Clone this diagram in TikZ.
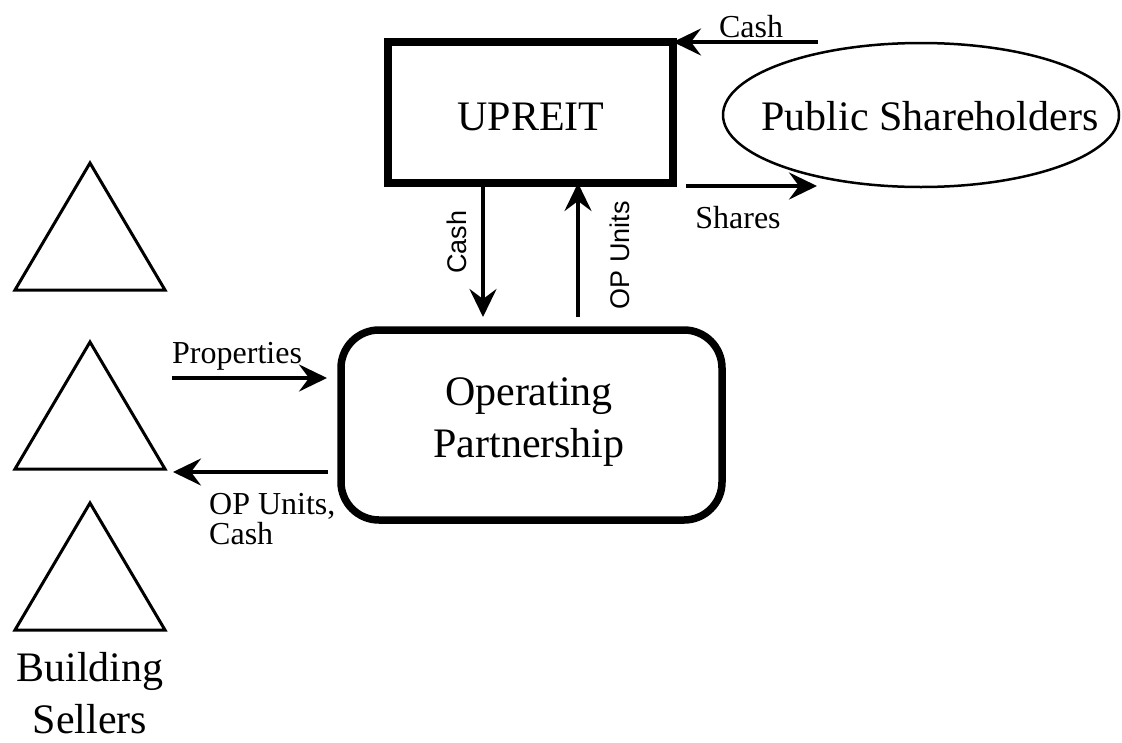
\documentclass[tikz,border=0pt]{standalone}
\usepackage{fontspec}
\setmainfont{Liberation Serif}
\newfontfamily\pixsans{Liberation Sans}
\usetikzlibrary{calc,positioning,arrows.meta,shapes.geometric}

\tikzset{flow/.style={line width=4pt,-{Stealth[length=28pt,width=27pt,inset=10pt]}},
bigtext/.style={font=\fontsize{42}{52}\selectfont,align=center,inner sep=0pt},
smalltext/.style={font=\fontsize{32}{30}\selectfont,align=left,inner sep=0pt},
sidetext/.style={font=\pixsans\fontsize{27}{27}\selectfont,inner sep=0pt,rotate=90}}

\begin{document}
\begin{tikzpicture}[x=1pt,y=-1pt]
\useasboundingbox (0,0) rectangle (1122,742);
% sellers
\foreach \ty in {163,342,503}
\draw[line width=3pt,line join=miter] (15,\ty+127)--(90,\ty)--(165,\ty+127)--cycle;
\node[bigtext,anchor=north] (sellers) at (90,652) {Building\\Sellers};
% boxes
\node[draw,line width=7.5pt,outer sep=0pt,minimum width=285pt,minimum height=141pt] (upreit) at (530.5,112.5) {};
\node[bigtext,anchor=base] (upreitlbl) at (531,130) {UPREIT};
\node[draw,line width=7.5pt,outer sep=0pt,rounded corners=38pt,minimum width=381pt,minimum height=190pt] (op) at (531.5,425) {};
\node[bigtext,anchor=north] (oplbl) at (529,377) {Operating\\Partnership};
\node[draw,ellipse,line width=2.5pt,outer sep=0pt,minimum width=396pt,minimum height=144pt] (pub) at (921,115) {};
\node[bigtext,anchor=base] (publbl) at (930,130) {Public Shareholders};
% flows
\coordinate (cashin) at (818,42);
\draw[flow] (cashin) -- (upreit.north east);
\node[smalltext,anchor=base] (cashinlbl) at (751,37) {Cash};
\coordinate (sh0) at (686,186); \coordinate (sh1) at (817,186);
\draw[flow] (sh0) -- (sh1);
\node[smalltext,anchor=base] (shlbl) at (738,228) {Shares};
\coordinate (cashdn) at (483,317);
\draw[flow] (upreit.south -| cashdn) -- (cashdn);
\node[sidetext] (cashdnlbl) at (457,242) {Cash};
\coordinate (unitsup) at (578,317);
\draw[flow] (unitsup) -- (unitsup |- upreit.south);
\node[sidetext] (unitsuplbl) at (620,255) {OP Units};
\coordinate (pr0) at (172,378); \coordinate (pr1) at (327,378);
\draw[flow] (pr0) -- (pr1);
\node[smalltext,anchor=base west] (prlbl) at (172,363) {Properties};
\coordinate (ou0) at (328,472); \coordinate (ou1) at (173,472);
\draw[flow] (ou0) -- (ou1);
\node[smalltext,anchor=north west] (oulbl) at (209,493) {OP Units,\\Cash};
\end{tikzpicture}
\end{document}
